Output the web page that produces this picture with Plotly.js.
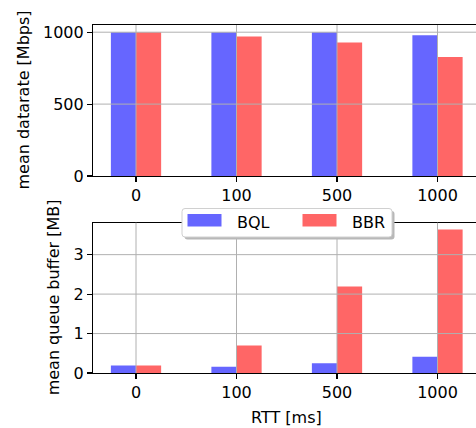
<!DOCTYPE html>
<html><head><meta charset="utf-8">
<script src="https://cdn.plot.ly/plotly-3.0.1.min.js"></script>
<style>html,body{margin:0;padding:0;background:#fff}</style>
</head><body><div id="chart" style="width:476px;height:428px"></div>
<script>
// ---- data ----
const rttLabels = ['0', '100', '500', '1000'];
const seriesNames = ['BQL', 'BBR'];
const datarateBQL = [1000, 1000, 1000, 978];
const datarateBBR = [999, 970, 928, 827];
const queueBQL = [0.19, 0.16, 0.25, 0.41];
const queueBBR = [0.19, 0.70, 2.19, 3.64];
const datarateTicks = [0, 500, 1000];
const queueTicks = [0, 1, 2, 3];

// ---- styles ----
const colors = ['#6666ff', '#ff6666'];
const FONT = 'DejaVu Sans, sans-serif';
const FS = 16;
const W = 476, H = 428;
const M = {l: 93, r: 0, t: 25, b: 55};
const PW = W - M.l - M.r, PH = H - M.t - M.b;
const px = x => (x - M.l) / PW;
const py = y => (H - M.b - y) / PH;
const gridColor = '#b0b0b0';

function bar(name, yvals, i, xa, ya) {
  return {
    type: 'bar', name: name, x: rttLabels, y: yvals,
    width: 0.25, offset: i === 0 ? -0.25 : 0,
    marker: {color: colors[i], line: {width: 0}},
    xaxis: xa, yaxis: ya, showlegend: false, hoverinfo: 'skip'
  };
}

const traces = [
  bar(seriesNames[0], datarateBQL, 0, 'x', 'y'),
  bar(seriesNames[1], datarateBBR, 1, 'x', 'y'),
  bar(seriesNames[0], queueBQL, 0, 'x2', 'y2'),
  bar(seriesNames[1], queueBBR, 1, 'x2', 'y2')
];

const shapes = [];
function grids(xr, yr, yt) {
  rttLabels.forEach((c, i) => shapes.push({type: 'line', layer: 'above', xref: xr, yref: yr + ' domain',
    x0: i, x1: i, y0: 0, y1: 1, line: {color: gridColor, width: 1}}));
  yt.filter(v => v > 0).forEach(v => shapes.push({type: 'line', layer: 'above', xref: xr + ' domain', yref: yr,
    x0: 0, x1: 1, y0: v, y1: v, line: {color: gridColor, width: 1}}));
}
grids('x', 'y', datarateTicks);
grids('x2', 'y2', queueTicks);

// manual matplotlib-style legend
function roundRect(x0, y0, x1, y1, r) {
  const P = (x, y) => px(x) + ',' + py(y);
  return 'M' + P(x0 + r, y0) + ' L' + P(x1 - r, y0) + ' Q' + P(x1, y0) + ' ' + P(x1, y0 + r) +
    ' L' + P(x1, y1 - r) + ' Q' + P(x1, y1) + ' ' + P(x1 - r, y1) +
    ' L' + P(x0 + r, y1) + ' Q' + P(x0, y1) + ' ' + P(x0, y1 - r) +
    ' L' + P(x0, y0 + r) + ' Q' + P(x0, y0) + ' ' + P(x0 + r, y0) + ' Z';
}
shapes.push({type: 'path', layer: 'above', xref: 'paper', yref: 'paper',
  path: roundRect(184.5, 211, 394.5, 239.5, 3), fillcolor: '#b8b8b8', line: {width: 0}});
shapes.push({type: 'path', layer: 'above', xref: 'paper', yref: 'paper',
  path: roundRect(182, 208.5, 392, 237, 3), fillcolor: 'white', line: {color: '#d0d0d0', width: 1}});
const patchX = [187.5, 302.5];
const textX = [235, 350];
const annotations = [];
seriesNames.forEach((n, i) => {
  shapes.push({type: 'rect', layer: 'above', xref: 'paper', yref: 'paper',
    x0: px(patchX[i]), x1: px(patchX[i] + 34), y0: py(226.5), y1: py(214),
    fillcolor: colors[i], line: {width: 0}});
  annotations.push({xref: 'paper', yref: 'paper', x: px(textX[i]), y: py(222),
    xanchor: 'left', yanchor: 'middle', showarrow: false, text: n,
    font: {family: FONT, size: FS, color: '#000'}});
});

annotations.push(
  {xref: 'paper', yref: 'y domain', x: 0, y: 0.5, xshift: -70, xanchor: 'center', yanchor: 'middle',
   textangle: -90, showarrow: false, text: 'mean datarate [Mbps]', font: {family: FONT, size: FS, color: '#000'}},
  {xref: 'paper', yref: 'y2 domain', x: 0, y: 0.5, xshift: -39.5, xanchor: 'center', yanchor: 'middle',
   textangle: -90, showarrow: false, text: 'mean queue buffer [MB]', font: {family: FONT, size: FS, color: '#000'}},
  {xref: 'paper', yref: 'paper', x: px(286.5), y: 0, yshift: -44, xanchor: 'center', yanchor: 'middle',
   showarrow: false, text: 'RTT [ms]', font: {family: FONT, size: FS, color: '#000'}}
);

const xCommon = {
  type: 'category', range: [-0.428, 3.383], showgrid: false, zeroline: false,
  showline: true, linecolor: '#000', linewidth: 1.1, mirror: true,
  ticks: 'outside', ticklen: 5, tickwidth: 1.1, tickcolor: '#000',
  tickfont: {family: FONT, size: FS, color: '#000'}, fixedrange: true
};
const yCommon = {
  showgrid: false, zeroline: false, showline: true, linecolor: '#000', linewidth: 1.1,
  ticks: 'outside', ticklen: 5, tickwidth: 1.1, tickcolor: '#000', tickmode: 'array',
  tickfont: {family: FONT, size: FS, color: '#000'}, fixedrange: true
};

const layout = {
  width: W, height: H, margin: M,
  paper_bgcolor: '#fff', plot_bgcolor: '#fff',
  showlegend: false, barmode: 'overlay',
  xaxis: Object.assign({}, xCommon, {anchor: 'y', domain: [0, 1]}),
  yaxis: Object.assign({}, yCommon, {anchor: 'x', domain: [py(176), 1], range: [0, 1050], tickvals: datarateTicks}),
  xaxis2: Object.assign({}, xCommon, {anchor: 'y2', domain: [0, 1]}),
  yaxis2: Object.assign({}, yCommon, {anchor: 'x2', domain: [0, py(222.7)], range: [0, 3.81], tickvals: queueTicks}),
  shapes: shapes, annotations: annotations
};

Plotly.newPlot('chart', traces, layout, {displayModeBar: false, staticPlot: true});
</script></body></html>
